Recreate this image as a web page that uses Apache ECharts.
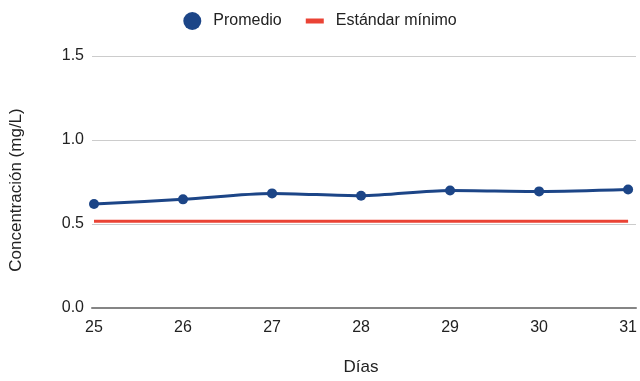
<!DOCTYPE html>
<html><head><meta charset="utf-8">
<script src="https://cdn.jsdelivr.net/npm/echarts@6/dist/echarts.min.js"></script>
<style>html,body{margin:0;padding:0;background:#fff}#c{width:640px;height:381px}</style>
</head><body><div id="c"></div>
<script>
const days = [25, 26, 27, 28, 29, 30, 31];
const promedio = [0.605, 0.633, 0.669, 0.655, 0.687, 0.681, 0.693];
const estandar = [0.5, 0.5, 0.5, 0.5, 0.5, 0.5, 0.5];
const yTicks = [0, 0.5, 1.0, 1.5];

const FONT = 'Arial, "Liberation Sans", sans-serif';
const chart = echarts.init(document.getElementById('c'), null, {renderer: 'canvas'});
chart.setOption({
  animation: false,
  textStyle: {fontFamily: FONT},
  legend: {
    top: 7, left: 'center', itemGap: 24,
    itemWidth: 18, itemHeight: 18,
    textStyle: {fontSize: 16, color: '#222', fontFamily: FONT, padding: [0, 0, 0, 7]},
    data: [
      {name: 'Promedio', icon: 'circle', itemStyle: {color: '#1c4587'}},
      {name: 'Estándar mínimo', icon: 'path://M0,0M0,6.5h18v5h-18zM18,18', itemStyle: {color: '#ea4335'}}
    ]
  },
  grid: [
    {left: 88, right: 4, top: 56, bottom: 73, containLabel: false},
    {left: 94, right: 9, top: 56, bottom: 73, containLabel: false}
  ],
  xAxis: [
    {
      gridIndex: 0, type: 'value', min: 0, max: 1,
      axisLine: {show: true, lineStyle: {color: '#858585', width: 2}},
      axisTick: {show: false}, axisLabel: {show: false}, splitLine: {show: false}
    },
    {
      gridIndex: 1, type: 'value', min: days[0], max: days[days.length - 1], interval: 1,
      name: 'Días', nameLocation: 'middle', nameGap: 55,
      nameTextStyle: {fontSize: 17, color: '#222', fontFamily: FONT},
      axisLine: {show: false}, axisTick: {show: false}, splitLine: {show: false},
      axisLabel: {fontSize: 16, color: '#222', margin: 16, fontFamily: FONT}
    }
  ],
  yAxis: [
    {
      gridIndex: 0, type: 'value', min: yTicks[0], max: yTicks[yTicks.length - 1], interval: 0.5,
      name: 'Concentración (mg/L)', nameLocation: 'middle', nameGap: 67,
      nameTextStyle: {fontSize: 17, color: '#222', fontFamily: FONT, padding: [0, 16, 0, 0]},
      axisLine: {show: false}, axisTick: {show: false},
      splitLine: {lineStyle: {color: '#cccccc', width: 1}},
      axisLabel: {fontSize: 16, color: '#222', margin: 8, fontFamily: FONT, formatter: v => v.toFixed(1)}
    },
    {
      gridIndex: 1, type: 'value', min: yTicks[0], max: yTicks[yTicks.length - 1], interval: 0.5,
      axisLine: {show: false}, axisTick: {show: false}, axisLabel: {show: false}, splitLine: {show: false}
    }
  ],
  series: [
    {
      name: 'Estándar mínimo', type: 'line', xAxisIndex: 1, yAxisIndex: 1,
      data: days.map((d, i) => [d, estandar[i]]),
      symbol: 'none', lineStyle: {color: '#ea4335', width: 3},
      itemStyle: {color: '#ea4335'}, z: 3
    },
    {
      name: 'Promedio', type: 'line', smooth: 0.3, xAxisIndex: 1, yAxisIndex: 1,
      data: days.map((d, i) => [d, promedio[i]]),
      symbol: 'circle', symbolSize: 10,
      lineStyle: {color: '#1c4587', width: 3},
      itemStyle: {color: '#1c4587'}, z: 4
    }
  ]
});
</script></body></html>
